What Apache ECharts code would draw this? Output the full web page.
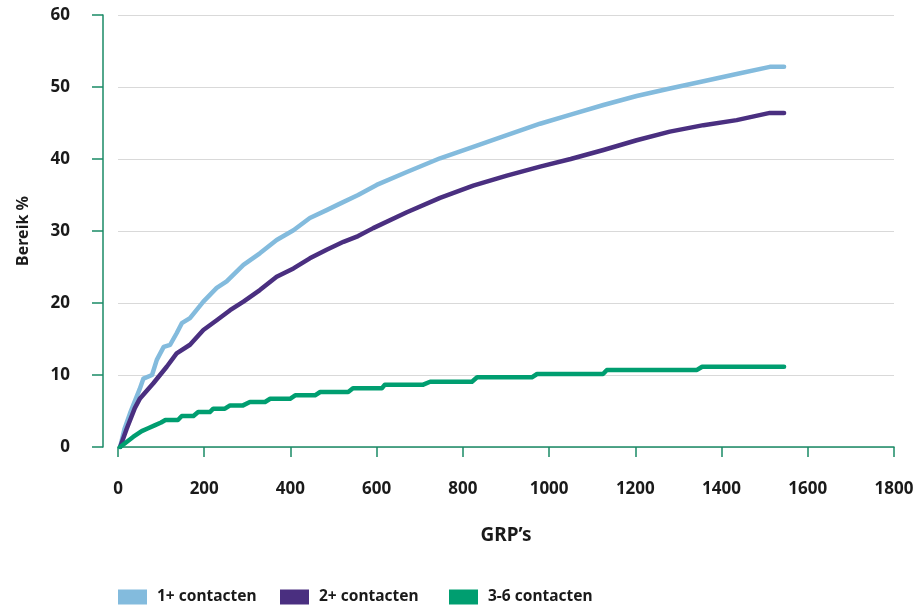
<!DOCTYPE html>
<html>
<head>
<meta charset="utf-8">
<script src="https://cdn.jsdelivr.net/npm/echarts@6/dist/echarts.min.js"></script>
<style>
  html, body { margin: 0; padding: 0; background: #ffffff; }
  #chart { width: 917px; height: 605px; }
</style>
</head>
<body>
<div id="chart"></div>
<script>
// ---- data ----
var seriesNames = ['1+ contacten', '2+ contacten', '3-6 contacten'];

var grp1 = [5, 15, 28, 40, 50, 59, 79, 90, 106, 121, 136, 148, 167, 198, 229, 252, 291, 329, 368, 407, 445, 484, 515, 557, 600, 670, 747, 824, 902, 979, 1052, 1126, 1203, 1280, 1358, 1435, 1512, 1545];
var reach1 = [0, 2.5, 4.7, 6.5, 8.0, 9.5, 10.0, 12.1, 13.9, 14.2, 15.8, 17.2, 17.9, 20.2, 22.1, 23.0, 25.3, 26.9, 28.75, 30.1, 31.8, 32.9, 33.8, 35.0, 36.4, 38.2, 40.1, 41.7, 43.3, 44.9, 46.2, 47.5, 48.75, 49.8, 50.8, 51.8, 52.8, 52.8];

var grp2 = [5, 20, 39, 51, 82, 113, 136, 167, 198, 229, 260, 291, 329, 368, 407, 445, 484, 523, 557, 592, 670, 747, 824, 902, 979, 1050, 1126, 1203, 1280, 1358, 1435, 1512, 1545];
var reach2 = [0, 2.5, 5.4, 6.75, 8.85, 11.15, 13.0, 14.2, 16.25, 17.6, 19.0, 20.2, 21.8, 23.65, 24.8, 26.2, 27.4, 28.5, 29.3, 30.4, 32.6, 34.6, 36.3, 37.7, 38.95, 40.0, 41.25, 42.6, 43.8, 44.7, 45.4, 46.4, 46.4];

var grp3 = [5, 20, 35, 55, 70, 85, 100, 110, 139, 148, 175, 186, 213, 221, 248, 260, 290, 306, 341, 353, 399, 411, 457, 469, 534, 545, 612, 619, 708, 724, 821, 833, 960, 972, 1125, 1134, 1343, 1355, 1545];
var reach3 = [0, 0.7, 1.4, 2.2, 2.6, 3.0, 3.4, 3.75, 3.75, 4.3, 4.3, 4.86, 4.86, 5.32, 5.32, 5.78, 5.78, 6.25, 6.25, 6.7, 6.7, 7.18, 7.18, 7.64, 7.64, 8.15, 8.15, 8.66, 8.66, 9.07, 9.07, 9.68, 9.68, 10.14, 10.14, 10.7, 10.7, 11.15, 11.15];

var xTicks = [0, 200, 400, 600, 800, 1000, 1200, 1400, 1600, 1800];
var yTicks = [0, 10, 20, 30, 40, 50, 60];

// ---- build ----
function zip(xs, ys) { return xs.map(function (x, i) { return [x, ys[i]]; }); }

var colors = ['#83bbdd', '#4a2f80', '#009e70'];
var axisGreen = '#1a8a66';
var fontFam = '"Noto Sans", "DejaVu Sans", sans-serif';

var chart = echarts.init(document.getElementById('chart'), null, { renderer: 'canvas' });

function mkSeries(name, data, color) {
  return {
    name: name, type: 'line', data: data, showSymbol: false, symbol: 'none',
    lineStyle: { color: color, width: 4.5, cap: 'round', join: 'round' },
    itemStyle: { color: color },
    animation: false
  };
}

function mkLegend(name, left) {
  return {
    data: [name], left: left, top: 589, itemWidth: 29, itemHeight: 15, itemGap: 0,
    icon: 'rect',
    textStyle: { fontFamily: fontFam, fontWeight: 'bold', fontSize: 15.5, color: '#1a1a1a', padding: [0, 0, 0, 5] },
    padding: 0, selectedMode: false
  };
}

var option = {
  backgroundColor: '#ffffff',
  animation: false,
  grid: { left: 118, right: 23, top: 15, bottom: 158, containLabel: false },
  legend: [mkLegend(seriesNames[0], 118), mkLegend(seriesNames[1], 280), mkLegend(seriesNames[2], 449)],
  xAxis: {
    type: 'value', min: xTicks[0], max: xTicks[xTicks.length - 1], interval: 200,
    name: 'GRP’s', nameLocation: 'middle', nameGap: 79,
    nameTextStyle: { fontFamily: fontFam, fontWeight: 'bold', fontSize: 19, color: '#1a1a1a' },
    axisLine: { show: true, onZero: false, lineStyle: { color: axisGreen, width: 1.5 } },
    axisTick: { show: true, length: 10, inside: false, lineStyle: { color: axisGreen, width: 1.5 } },
    axisLabel: { margin: 34, fontFamily: fontFam, fontWeight: 'bold', fontSize: 17, color: '#1a1a1a',
      formatter: function (v) { return String(v); } },
    splitLine: { show: false }
  },
  yAxis: {
    type: 'value', min: yTicks[0], max: yTicks[yTicks.length - 1], interval: 10,
    offset: 15,
    name: 'Bereik %', nameLocation: 'middle', nameGap: 72, nameRotate: 90,
    nameTextStyle: { fontFamily: fontFam, fontWeight: 'bold', fontSize: 16, color: '#1a1a1a' },
    axisLine: { show: true, onZero: false, lineStyle: { color: axisGreen, width: 1.5 } },
    axisTick: { show: true, length: 11, inside: false, lineStyle: { color: axisGreen, width: 1.5 } },
    axisLabel: { margin: 33, fontFamily: fontFam, fontWeight: 'bold', fontSize: 17, color: '#1a1a1a',
      formatter: function (v) { return String(v); } },
    splitLine: { show: true, lineStyle: { color: '#d9d9d9', width: 1.2 } }
  },
  series: [
    mkSeries(seriesNames[0], zip(grp1, reach1), colors[0]),
    mkSeries(seriesNames[1], zip(grp2, reach2), colors[1]),
    mkSeries(seriesNames[2], zip(grp3, reach3), colors[2])
  ]
};
chart.setOption(option);
</script>
</body>
</html>
